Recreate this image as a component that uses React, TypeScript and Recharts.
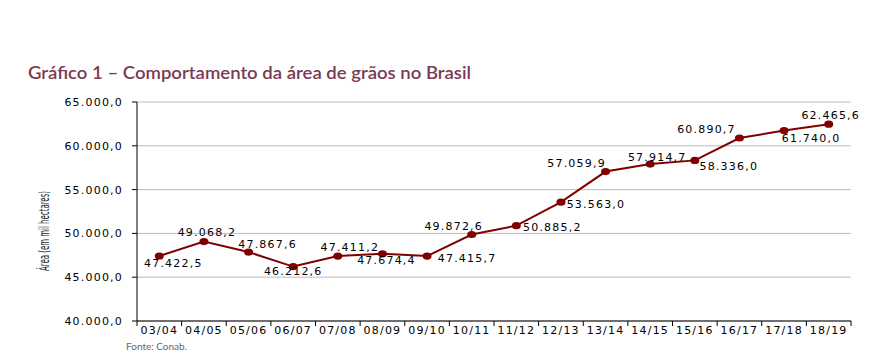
import React from 'react';
import { LineChart, Line, XAxis, YAxis, CartesianGrid, LabelList } from 'recharts';

const seasons = [
  '03/04', '04/05', '05/06', '06/07', '07/08', '08/09', '09/10', '10/11',
  '11/12', '12/13', '13/14', '14/15', '15/16', '16/17', '17/18', '18/19',
];
const area = [
  47422.5, 49068.2, 47867.6, 46212.6, 47411.2, 47674.4, 47415.7, 49872.6,
  50885.2, 53563.0, 57059.9, 57914.7, 58336.0, 60890.7, 61740.0, 62465.6,
];
const yTicks = [40000, 45000, 50000, 55000, 60000, 65000];

// where each value label sits relative to its point (dx, dy)
const labelOffsets: [number, number][] = [
  [14, 8], [3, -9], [19, -8], [0, 5], [12, -9], [4, 7], [40, 2], [-18, -8],
  [36, 2], [35, 2], [-29, -8], [7, -7], [34, 6], [-33, -8], [27, 8], [2, -9],
];

const W = 869;
const H = 360;
const M = { top: 102, right: 18, left: 0, bottom: 9 };
const Y_W = 137;
const X_H = 30;
const BAND = (W - M.left - M.right - Y_W) / seasons.length;

const data = seasons.map((s, i) => ({ season: s, area: area[i] }));

const fmt = (n: number) => {
  const [int, dec] = n.toFixed(1).split('.');
  return int.replace(/\B(?=(\d{3})+(?!\d))/g, '.') + ',' + dec;
};

const tickFont = {
  fontFamily: "'DejaVu Sans', Verdana, sans-serif",
  fontSize: 11,
  letterSpacing: 1.2,
  fill: '#000',
};

const XTick = (props: any) => {
  const { x, y, payload, index } = props;
  return (
    <g>
      <line x1={x - BAND / 2} x2={x - BAND / 2} y1={y} y2={y + 5} stroke="#000" />
      {index === seasons.length - 1 && (
        <line x1={x + BAND / 2} x2={x + BAND / 2} y1={y} y2={y + 5} stroke="#000" />
      )}
      <text x={x} y={y + 9} textAnchor="middle" dominantBaseline="central" {...tickFont}>
        {payload.value}
      </text>
    </g>
  );
};

const Dot = (props: any) => {
  const { cx, cy, index } = props;
  return <ellipse key={index} cx={cx} cy={cy} rx={4.5} ry={3.6} fill="#800000" />;
};

const ValueLabel = (props: any) => {
  const { x, y, value, index } = props;
  const [dx, dy] = labelOffsets[index] || [0, -9];
  return (
    <text
      x={x + dx}
      y={y + dy}
      textAnchor="middle"
      dominantBaseline="central"
      {...tickFont}
    >
      {fmt(value)}
    </text>
  );
};

export default function App() {
  return (
    <div style={{ position: 'relative', width: W, height: H, margin: -8, background: '#fff' }}>
      <LineChart width={W} height={H} data={data} margin={M}>
        <CartesianGrid vertical={false} stroke="#bdbdbd" />
        <XAxis
          dataKey="season"
          scale="band"
          interval={0}
          height={X_H}
          tickSize={0}
          tickMargin={0}
          tickLine={false}
          axisLine={{ stroke: '#000' }}
          tick={<XTick />}
        />
        <YAxis
          width={Y_W}
          domain={[40000, 65000]}
          ticks={yTicks}
          tickFormatter={fmt}
          tickSize={5}
          tickMargin={9}
          tickLine={{ stroke: '#000' }}
          axisLine={{ stroke: '#000' }}
          tick={tickFont}
        />
        <Line
          type="linear"
          dataKey="area"
          stroke="#800000"
          strokeWidth={2}
          dot={<Dot />}
          activeDot={false}
          isAnimationActive={false}
        >
          <LabelList dataKey="area" content={<ValueLabel />} />
        </Line>
      </LineChart>
      <svg
        width={W}
        height={H}
        style={{ position: 'absolute', left: 0, top: 0, pointerEvents: 'none' }}
      >
        <text
          x={28}
          y={79}
          fontFamily="Lato, 'Open Sans', sans-serif"
          fontSize={18}
          fontWeight={600}
          fill="#7a3a52"
          textLength={443}
          lengthAdjust="spacingAndGlyphs"
        >
          Gráfico 1 – Comportamento da área de grãos no Brasil
        </text>
        <text
          x={49}
          y={231}
          transform="rotate(-90 49 231)"
          textAnchor="middle"
          fontFamily="'Liberation Sans Narrow', 'DejaVu Sans Condensed', sans-serif"
          fontSize={14}
          fill="#222"
          textLength={80}
          lengthAdjust="spacingAndGlyphs"
        >
          Área (em mil hectares)
        </text>
        <text
          x={126}
          y={350}
          fontFamily="Lato, sans-serif"
          fontSize={10}
          fill="#666"
          textLength={61}
          lengthAdjust="spacingAndGlyphs"
        >
          Fonte: Conab.
        </text>
      </svg>
    </div>
  );
}
